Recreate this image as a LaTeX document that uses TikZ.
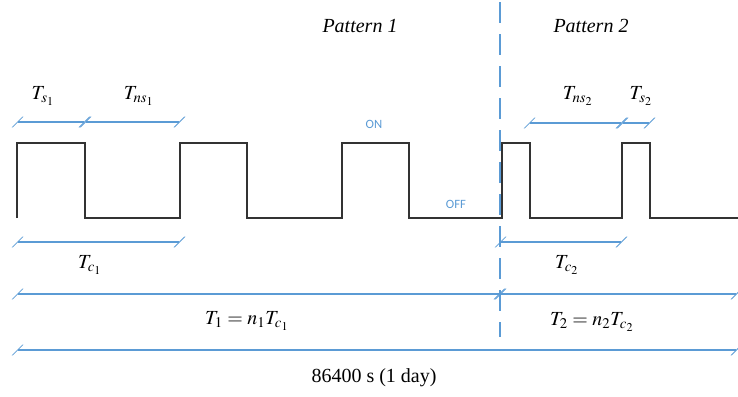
\documentclass[tikz,border=0pt]{standalone}
\usepackage{mathptmx}
\usepackage[no-math]{fontspec}
\setmainfont{Liberation Serif}
\newfontfamily\statefont{Carlito}
\usetikzlibrary{arrows.meta}
\definecolor{dimblue}{HTML}{5B9BD5}
\definecolor{wavegray}{HTML}{333333}

\begin{document}
\begin{tikzpicture}[
  x=0.75pt, y=-0.75pt,
  wave/.style={draw=wavegray, line width=1.1pt},
  dim/.style={draw=dimblue, line width=0.8pt, {Bar[width=8pt,slant=1]}-{Bar[width=8pt,slant=1]}},
  split/.style={draw=dimblue, line width=1pt, dash pattern=on 15.75pt off 8.25pt},
  lbl/.style={font=\fontsize{15}{18}\selectfont, inner sep=0pt},
  title/.style={font=\fontsize{15}{18}\selectfont\itshape, inner sep=0pt},
  state/.style={font=\statefont\fontsize{9.5}{11}\selectfont, text=dimblue, inner sep=0pt}
]
  \useasboundingbox (0,0) rectangle (738,396);

  % square wave, pattern 1 then pattern 2
  \draw[wave] (17,218) -- (17,143) -- (85,143) -- (85,218) -- (180,218) -- (180,143)
    -- (247,143) -- (247,218) -- (342,218) -- (342,143) -- (409,143) -- (409,218)
    -- (502,218) -- (502,143) -- (530,143) -- (530,218) -- (622,218) -- (622,143)
    -- (650,143) -- (650,218) -- (738,218);

  \node[title] (p1) at (360,26) {Pattern 1};
  \node[title] (p2) at (591,26) {Pattern 2};
  \node[state] (on) at (374,124) {ON};
  \node[state] (off) at (456,204) {OFF};

  % dimension points
  \coordinate (a0) at (17,122);
  \coordinate (a1) at (85,122);
  \coordinate (a2) at (180,122);
  \coordinate (b0) at (529,123);
  \coordinate (b1) at (622,123);
  \coordinate (b2) at (650,123);
  \coordinate (c0) at (17,242);
  \coordinate (c1) at (180,242);
  \coordinate (d0) at (500,242);
  \coordinate (d1) at (622,242);
  \coordinate (e0) at (17,294);
  \coordinate (e1) at (500,294);
  \coordinate (e2) at (737,294);
  \coordinate (f0) at (17,350);
  \coordinate (f1) at (737,350);
  \coordinate (top) at (500,2);
  \coordinate (bot) at (500,337);

  \draw[split] (top) -- (bot);

  \draw[dim] (a0) -- (a1);
  \draw[dim] (a1) -- (a2);
  \draw[dim] (b0) -- (b1);
  \draw[dim] (b1) -- (b2);
  \draw[dim] (c0) -- (c1);
  \draw[dim] (d0) -- (d1);
  \draw[dim] (e0) -- (e1);
  \draw[dim] (e1) -- (e2);
  \draw[dim] (f0) -- (f1);

  \node[lbl] (ts1) at (43,96) {$T_{s_1}$};
  \node[lbl] (tns1) at (139,96) {$T_{ns_1}$};
  \node[lbl] (tns2) at (578,96) {$T_{ns_2}$};
  \node[lbl] (ts2) at (641,96) {$T_{s_2}$};
  \node[lbl] (tc1) at (90,265) {$T_{c_1}$};
  \node[lbl] (tc2) at (567,265) {$T_{c_2}$};
  \node[lbl] (t1) at (247,321) {$T_1 = n_1 T_{c_1}$};
  \node[lbl] (t2) at (592,322) {$T_2 = n_2 T_{c_2}$};
  \node[lbl] (day) at (374,378) {86400 s (1 day)};
\end{tikzpicture}
\end{document}
